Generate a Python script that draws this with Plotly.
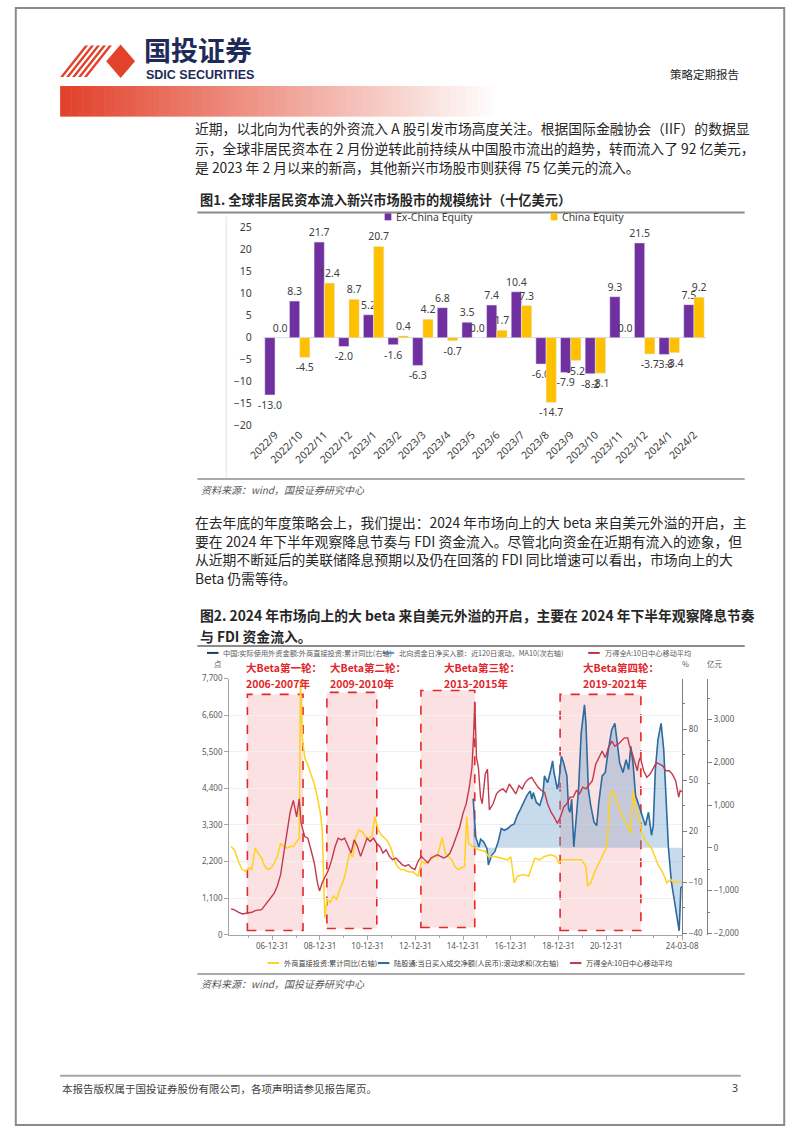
import plotly.graph_objects as go
import pandas as pd

W, H = 802, 1133
def X(px): return px / W
def Y(py): return 1 - py / H

CJK = "Noto Sans CJK SC"
LAT = "Noto Sans"

# ---------------- Figure 1 data ----------------
months = ["2022/9", "2022/10", "2022/11", "2022/12", "2023/1", "2023/2", "2023/3", "2023/4", "2023/5",
          "2023/6", "2023/7", "2023/8", "2023/9", "2023/10", "2023/11", "2023/12", "2024/1", "2024/2"]
ex_china = [-13.0, 8.3, 21.7, -2.0, 5.2, -1.6, -6.3, 6.8, 3.5, 7.4, 10.4, -6.0, -7.9, -8.2, 9.3, 21.5, -3.8, 7.5]
china = [0.0, -4.5, 12.4, 8.7, 20.7, 0.4, 4.2, -0.7, 0.0, 1.7, 7.3, -14.7, -5.2, -8.1, 0.0, -3.7, -3.4, 9.2]

# ---------------- Figure 2 data (time as decimal year) ----------------
wind_t = [2005.27, 2005.39, 2005.59, 2005.74, 2006.14, 2006.28, 2006.55, 2006.80, 2007.08, 2007.21, 2007.35,
          2007.48, 2007.62, 2007.75, 2007.88, 2008.02, 2008.13, 2008.21, 2008.36, 2008.49, 2008.62, 2008.76,
          2008.89, 2008.98, 2009.09, 2009.22, 2009.36, 2009.49, 2009.63, 2009.76, 2009.90, 2010.03, 2010.17,
          2010.30, 2010.43, 2010.57, 2010.70, 2010.83, 2010.97, 2011.10, 2011.24, 2011.37, 2011.51, 2011.64,
          2011.77, 2011.91, 2012.04, 2012.18, 2012.31, 2012.44, 2012.58, 2012.71, 2012.84, 2012.98, 2013.11,
          2013.25, 2013.38, 2013.52, 2013.65, 2013.79, 2013.92, 2014.05, 2014.19, 2014.32, 2014.45, 2014.59,
          2014.72, 2014.86, 2014.99, 2015.13, 2015.26, 2015.37, 2015.44, 2015.49, 2015.56, 2015.64, 2015.73,
          2015.80, 2015.93, 2016.02, 2016.10, 2016.26, 2016.40, 2016.53, 2016.67, 2016.80, 2016.94, 2017.07,
          2017.21, 2017.34, 2017.47, 2017.61, 2017.74, 2017.87, 2018.01, 2018.14, 2018.28, 2018.41, 2018.54,
          2018.68, 2018.81, 2018.95, 2019.08, 2019.22, 2019.35, 2019.48, 2019.62, 2019.75, 2019.88, 2020.02,
          2020.15, 2020.29, 2020.42, 2020.56, 2020.69, 2020.83, 2020.96, 2021.09, 2021.23, 2021.36, 2021.49,
          2021.63, 2021.76, 2021.90, 2021.96, 2022.10, 2022.23, 2022.30, 2022.37, 2022.43, 2022.57, 2022.70,
          2022.84, 2022.97, 2023.10, 2023.24, 2023.37, 2023.50, 2023.64, 2023.77, 2023.91, 2024.04, 2024.10,
          2024.18]
wind_v = [772, 752, 673, 623, 673, 722, 752, 970, 1247, 1465, 1811,
          2454, 3048, 3692, 4038, 3543, 4087, 3345, 2949, 2900, 2553, 2157,
          1564, 1316, 1564, 1762, 1960, 2257, 2652, 2900, 2850, 2900, 2652,
          2454, 2850, 2652, 2355, 2652, 2900, 2800, 2900, 2751, 2652, 2454,
          2553, 2355, 2257, 2306, 2207, 2108, 2059, 2108, 2009, 1960, 2207,
          2355, 2257, 2158, 2306, 2355, 2405, 2355, 2306, 2355, 2454, 2702,
          2949, 3246, 3642, 3939, 4434, 5028, 6017, 7007, 5325, 5028, 4137,
          3939, 4830, 4977, 3750, 3937, 4234, 4335, 4383, 4285, 4531, 4383,
          4234, 4483, 4383, 4582, 4680, 4730, 4582, 4433, 4335, 4285, 3937,
          3691, 3542, 3344, 3542, 3839, 3937, 4136, 4136, 4335, 4234, 4433,
          4383, 4531, 4631, 5125, 5324, 5523, 5324, 5621, 5820, 5671, 5720,
          5820, 5918, 5918, 5720, 5423, 5125, 4929, 5226, 5324, 4929, 4730,
          4828, 5027, 5175, 5125, 5076, 4929, 4929, 4828, 4631, 4136, 4335,
          4300]

fdi_t = [2005.27, 2005.40, 2005.60, 2005.74, 2005.87, 2006.01, 2006.14, 2006.28, 2006.41, 2006.55, 2006.68,
         2006.81, 2006.95, 2007.08, 2007.21, 2007.35, 2007.48, 2007.62, 2007.75, 2007.88, 2008.02, 2008.13,
         2008.18, 2008.26, 2008.36, 2008.49, 2008.62, 2008.76, 2008.89, 2009.02, 2009.09, 2009.15, 2009.20,
         2009.29, 2009.43, 2009.56, 2009.70, 2009.83, 2009.96, 2010.10, 2010.23, 2010.37, 2010.50, 2010.63,
         2010.77, 2010.90, 2011.03, 2011.17, 2011.30, 2011.44, 2011.57, 2011.71, 2011.84, 2011.98, 2012.11,
         2012.24, 2012.38, 2012.51, 2012.64, 2012.78, 2012.91, 2013.11, 2013.25, 2013.38, 2013.52, 2013.65,
         2013.79, 2013.92, 2014.12, 2014.25, 2014.39, 2014.52, 2014.65, 2014.79, 2014.92, 2015.06, 2015.15,
         2015.23, 2015.39, 2015.66, 2015.93, 2016.06, 2016.33, 2016.60, 2016.87, 2017.00, 2017.14, 2017.27,
         2017.54, 2017.74, 2017.87, 2018.01, 2018.21, 2018.41, 2018.68, 2018.88, 2019.02, 2019.15, 2019.55,
         2019.95, 2020.15, 2020.22, 2020.35, 2020.56, 2020.83, 2021.03, 2021.16, 2021.30, 2021.43, 2021.63,
         2021.83, 2022.03, 2022.12, 2022.23, 2022.37, 2022.50, 2022.70, 2022.90, 2023.04, 2023.17, 2023.30,
         2023.44, 2023.54, 2023.70, 2023.84, 2023.98, 2024.14]
fdi_v = [11.0, 9.1, 1.3, -2.5, -3.5, -1.6, -2.5, 10.0, 7.0, 4.2, -0.6,
         -2.5, -1.6, 1.3, 5.2, 12.9, 11.0, 10.0, 11.0, 11.0, 13.9, 15.8,
         109.0, 75.0, 63.0, 59.0, 53.5, 47.7, 40.0, 30.0, 20.7, -4.4, -31.0,
         -20.0, -22.0, -18.0, -20.0, -14.0, -10.0, -2.5, 7.2, 5.0, 16.8, 20.7,
         19.7, 16.8, 15.9, 16.8, 28.4, 20.7, 17.8, 15.9, 13.9, 10.0, 3.5,
         -0.6, -2.5, -2.5, -3.5, -4.0, -4.0, -6.4, 2.3, 1.3, 2.3, 3.2,
         5.2, 5.2, 16.2, 7.2, 5.2, 3.2, -0.6, -2.5, -1.6, -0.6, 28.4,
         12.9, 11.0, 9.1, 8.1, 5.2, 5.2, 4.2, 3.2, 5.0, -10.3, -6.4,
         -5.4, -6.4, -0.6, 4.2, 3.2, 5.2, 6.1, 5.2, 1.3, 3.2, 3.2,
         3.2, -0.6, -12.2, -10.3, -2.5, 5.2, 11.0, 41.9, 43.8, 37.4, 30.3,
         24.5, 18.7, 43.8, 35.0, 28.4, 18.7, 12.9, 10.0, 5.2, 0.3, -2.5,
         -6.4, -10.3, -8.3, -10.3, -9.4, -10.0]

north_t = [2015.42, 2015.47, 2015.53, 2015.66, 2015.73, 2015.86, 2016.00, 2016.06, 2016.20, 2016.33, 2016.47,
           2016.60, 2016.73, 2016.87, 2017.00, 2017.14, 2017.27, 2017.41, 2017.54, 2017.67, 2017.81, 2017.88,
           2017.94, 2018.07, 2018.21, 2018.34, 2018.41, 2018.54, 2018.68, 2018.75, 2018.81, 2018.95, 2019.01,
           2019.12, 2019.21, 2019.35, 2019.42, 2019.48, 2019.55, 2019.64, 2019.75, 2019.84, 2019.95, 2020.09,
           2020.15, 2020.25, 2020.35, 2020.49, 2020.60, 2020.69, 2020.83, 2020.96, 2021.09, 2021.23, 2021.36,
           2021.43, 2021.56, 2021.70, 2021.83, 2021.94, 2022.03, 2022.12, 2022.23, 2022.37, 2022.50, 2022.64,
           2022.77, 2022.90, 2022.97, 2023.06, 2023.17, 2023.30, 2023.41, 2023.50, 2023.61, 2023.73, 2023.84,
           2023.97, 2024.06, 2024.13, 2024.18]
north_v = [1150, 600, 250, 20, 200, 140, -15, -400, -170, -90, 140,
           450, 410, 450, 520, 560, 760, 910, 1060, 1220, 1330, 1140,
           1290, 1060, 990, 1220, 1680, 1520, 1830, 2030, 1760, 1370, 1520,
           2140, 1990, 1680, 910, 830, 1140, 20, 750, 1370, 2680, 3340,
           2910, 1370, 990, 600, 520, 1060, 1680, 1760, 2300, 2760, 2910,
           2600, 1990, 1760, 2060, 1830, 2370, 1990, 1220, 990, 750, 520,
           830, 290, 520, 1830, 2530, 2910, 2300, 1370, -15, -790, -1170,
           -1550, -1940, -940, -900]

x2_tickdates = ["2006-12-31", "2008-12-31", "2010-12-31", "2012-12-31", "2014-12-31",
                "2016-12-31", "2018-12-31", "2020-12-31", "2024-03-08"]
x2_ticklabels = ["06-12-31", "08-12-31", "10-12-31", "12-12-31", "14-12-31",
                 "16-12-31", "18-12-31", "20-12-31", "24-03-08"]

beta_rounds = [("大Beta第一轮：", "2006-2007年", "2005-12-15", "2008-04-15"),
               ("大Beta第二轮：", "2009-2010年", "2009-04-15", "2011-05-20"),
               ("大Beta第三轮：", "2013-2015年", "2013-03-25", "2015-06-28"),
               ("大Beta第四轮：", "2019-2021年", "2019-01-25", "2022-06-15")]


def to_date(t):
    y = int(t)
    return pd.Timestamp(year=y, month=1, day=1) + pd.Timedelta(days=(t - y) * 365.25)


fig = go.Figure()

# ---- Figure 1 bars ----
lab_font = dict(family=LAT, size=10.5, color="#404040")
fig.add_trace(go.Bar(x=months, y=ex_china, marker_color="#7030A0", texttemplate="%{y:.1f}",
                     textposition="outside", textfont=lab_font, cliponaxis=False, constraintext="none",
                     xaxis="x", yaxis="y", name="Ex-China Equity"))
fig.add_trace(go.Bar(x=months, y=china, marker_color="#FFC000", texttemplate="%{y:.1f}",
                     textposition="outside", textfont=lab_font, cliponaxis=False, constraintext="none",
                     xaxis="x", yaxis="y", name="China Equity"))

# ---- Figure 2 lines ----
fig.add_trace(go.Scatter(x=[to_date(t) for t in north_t], y=north_v, mode="lines",
                         line=dict(color="#2C6AA0", width=1.6), fill="tozeroy",
                         fillcolor="rgba(110,160,205,0.38)", xaxis="x2", yaxis="y2"))
fig.add_trace(go.Scatter(x=[to_date(t) for t in fdi_t], y=fdi_v, mode="lines",
                         line=dict(color="#FFD21F", width=1.5), xaxis="x2", yaxis="y3"))
fig.add_trace(go.Scatter(x=[to_date(t) for t in wind_t], y=wind_v, mode="lines",
                         line=dict(color="#C3384D", width=1.4), xaxis="x2", yaxis="y4"))

shapes = []
ann = []


def txt(s, x, y, size=13.0, color="#262626", anchor="left", family=CJK, bold=False, italic=False):
    if bold:
        s = "<b>" + s + "</b>"
    if italic:
        s = "<i>" + s + "</i>"
    ann.append(dict(text=s, x=X(x), y=Y(y), xref="paper", yref="paper", xanchor=anchor, yanchor="middle",
                    showarrow=False, font=dict(family=family, size=size, color=color)))


def hline(x0, x1, y, color="#8C8C8C", width=1.5):
    shapes.append(dict(type="line", xref="paper", yref="paper", x0=X(x0), x1=X(x1), y0=Y(y), y1=Y(y),
                       line=dict(color=color, width=width)))


def rect(x0, y0, x1, y1, color):
    shapes.append(dict(type="rect", xref="paper", yref="paper", x0=X(x0), x1=X(x1), y0=Y(y1), y1=Y(y0),
                       line=dict(width=0), fillcolor=color))


# page border
shapes.append(dict(type="rect", xref="paper", yref="paper", x0=0.001, x1=0.999, y0=0.001, y1=0.999,
                   line=dict(color="#8A8A8A", width=2)))

# ---- header ----
for i in range(5):
    bx = 47 + 6.2 * i
    p = "M {},{} L {},{} L {},{} L {},{} Z".format(X(bx), Y(71), X(bx + 3.2), Y(71), X(bx + 29.2), Y(39),
                                                 X(bx + 26), Y(39))
    shapes.append(dict(type="path", xref="paper", yref="paper", path=p, fillcolor="#E2412B",
                       line=dict(width=0)))
p = "M {},{} L {},{} L {},{} L {},{} Z".format(X(95), Y(55), X(110), Y(38), X(125), Y(55), X(110), Y(72))
shapes.append(dict(type="path", xref="paper", yref="paper", path=p, fillcolor="#E2412B", line=dict(width=0)))
txt("<b>国投证券</b>", 132, 43, size=27, color="#1E2A5A")
txt("<b>SDIC SECURITIES</b>", 134, 68.5, size=12.5, color="#1E2A5A", family="Liberation Sans")
txt("策略定期报告", 756, 68, size=11.5, color="#262626", anchor="right")

# gradient band
N = 80
x_start, x_end = 47, 505
step = (x_end - x_start) / N
for i in range(N):
    t = i / (N - 1)
    r = int(226 + (255 - 226) * t)
    g = int(66 + (255 - 66) * t)
    b = int(43 + (255 - 43) * t)
    rect(x_start + i * step, 80, x_start + (i + 1) * step + 0.6, 111, "rgb({},{},{})".format(r, g, b))

# ---- paragraph 1 ----
para1 = ["近期，以北向为代表的外资流入 A 股引发市场高度关注。根据国际金融协会（IIF）的数据显",
         "示，全球非居民资本在 2 月份逆转此前持续从中国股市流出的趋势，转而流入了 92 亿美元，",
         "是 2023 年 2 月以来的新高，其他新兴市场股市则获得 75 亿美元的流入。"]
for i, line in enumerate(para1):
    txt(line, 185, 123 + i * 19.5, size=13.8)

# ---- figure 1 title / legend / source ----
txt("<b>图1. 全球非居民资本流入新兴市场股市的规模统计（十亿美元）</b>", 191, 195, size=13.2)
hline(190, 760, 208, color="#8C8C8C", width=2)
rect(385, 209, 392, 216, "#7030A0")
txt("Ex-China Equity", 395, 213, size=10.5, family=LAT, color="#404040")
rect(558, 209, 565, 216, "#FFC000")
txt("China Equity", 568, 213, size=10.5, family=LAT, color="#404040")
shapes.append(dict(type="line", xref="paper", yref="paper", x0=X(220), x1=X(220), y0=Y(212), y1=Y(477),
                   line=dict(color="#E3E3E3", width=1)))
hline(190, 760, 478, color="#8C8C8C", width=1.5)
txt("资料来源：wind，国投证券研究中心", 192, 489, size=10, color="#595959", italic=True)

# ---- paragraph 2 ----
para2 = ["在去年底的年度策略会上，我们提出：2024 年市场向上的大 beta 来自美元外溢的开启，主",
         "要在 2024 年下半年观察降息节奏与 FDI 资金流入。尽管北向资金在近期有流入的迹象，但",
         "从近期不断延后的美联储降息预期以及仍在回落的 FDI 同比增速可以看出，市场向上的大",
         "Beta 仍需等待。"]
for i, line in enumerate(para2):
    txt(line, 185, 521 + i * 19.2, size=13.8)

# ---- figure 2 title ----
txt("<b>图2. 2024 年市场向上的大 beta 来自美元外溢的开启，主要在 2024 年下半年观察降息节奏</b>", 191, 616, size=13.8)
txt("<b>与 FDI 资金流入。</b>", 191, 637, size=13.8)
hline(190, 760, 647, color="#8C8C8C", width=2)

# top legend of figure 2
leg_top = [(200, "#1F3A68", "中国:实际使用外资金额:外商直接投资:累计同比(右轴)"),
           (383, "#5B9BD5", "北向资金日净买入额：近120日滚动，MA10(次右轴)"),
           (597, "#C0304A", "万得全A:10日中心移动平均")]
for x0, c, s in leg_top:
    hline(x0, x0 + 12, 654, color=c, width=2)
    txt(s, x0 + 15, 654, size=7.2, color="#595959")

txt("点", 205, 665, size=7.5, color="#595959")
txt("%", 693, 665, size=7.5, color="#595959")
txt("亿元", 719, 665, size=7.5, color="#595959")

# beta boxes
box_px = [(696, 935, 238), (694, 933, 326), (692, 932, 445), (696, 935, 590)]
for (t1, t2, d0, d1), (ytop, ybot, lx) in zip(beta_rounds, box_px):
    shapes.append(dict(type="rect", xref="x2", yref="paper", x0=d0, x1=d1, y0=Y(ybot), y1=Y(ytop),
                       fillcolor="rgba(236,120,120,0.22)", line=dict(color="#E8262A", width=1.6, dash="dash"),
                       layer="below"))
    txt("<b>" + t1 + "</b>", lx, 669, size=10.5, color="#E0262A")
    txt("<b>" + t2 + "</b>", lx, 685, size=10.5, color="#E0262A")

# bottom legend of figure 2
leg_bot = [(263, "#FFD21F", "外商直接投资:累计同比(右轴)"),
           (378, "#2C6AA0", "陆股通:当日买入成交净额(人民币):滚动求和(次右轴)"),
           (578, "#C3384D", "万得全A:10日中心移动平均")]
for x0, c, s in leg_bot:
    hline(x0, x0 + 12, 968, color=c, width=2)
    txt(s, x0 + 15, 968, size=7.2, color="#404040")

hline(190, 760, 979, color="#8C8C8C", width=1.5)
txt("资料来源：wind，国投证券研究中心", 192, 989, size=10, color="#595959", italic=True)

# footer
hline(47, 756, 1082, color="#A6A6A6", width=2)
txt("本报告版权属于国投证券股份有限公司，各项声明请参见报告尾页。", 47, 1095, size=10.5, color="#404040")
txt("3", 755, 1095, size=10.5, color="#404040", anchor="right", family=LAT)

small = dict(family=LAT, size=8, color="#595959")
fig.update_layout(
    width=W, height=H, margin=dict(l=0, r=0, t=0, b=0),
    paper_bgcolor="white", plot_bgcolor="rgba(0,0,0,0)", showlegend=False,
    barmode="group", bargap=0.17, bargroupgap=0.0,
    font=dict(family=CJK, color="#333333"),
    shapes=shapes, annotations=ann,
    xaxis=dict(domain=[X(258), X(720)], anchor="y", type="category", tickangle=-45,
               tickfont=dict(family=LAT, size=10.5, color="#404040"), showline=False, ticks="",
               showgrid=False, zeroline=False),
    yaxis=dict(domain=[Y(424), Y(223.3)], anchor="x", range=[-20, 25], dtick=5,
               tickfont=dict(family=LAT, size=10.5, color="#404040"), showgrid=False,
               zeroline=True, zerolinecolor="#D9D9D9", zerolinewidth=1, showline=False, ticklabelstandoff=10),
    xaxis2=dict(domain=[X(223), X(695)], anchor="y2", type="date",
                range=["2005-03-10", "2024-03-10"], tickmode="array",
                tickvals=x2_tickdates, ticktext=x2_ticklabels, ticks="outside", ticklen=4,
                tickcolor="#A6A6A6", showline=True, linecolor="#A6A6A6", linewidth=1,
                tickfont=small, showgrid=False, zeroline=False,
                minor=dict(ticks="outside", ticklen=2, tickcolor="#A6A6A6", dtick="M12", tick0="2005-12-31")),
    yaxis2=dict(domain=[Y(939.3), Y(680)], anchor="free", position=X(721), side="right",
                range=[-2030, 3954], tickvals=[-2000, -1000, 0, 1000, 2000, 3000, 4000],
                tickformat=",d", ticks="outside", ticklen=4, tickcolor="#7F7F7F",
                showline=True, linecolor="#7F7F7F", showgrid=False, zeroline=False, tickfont=small,
                minor=dict(ticks="outside", ticklen=2, tickcolor="#7F7F7F", dtick=500, tick0=0)),
    yaxis3=dict(overlaying="y2", anchor="x2", side="right", range=[-40.75, 109.6],
                tickvals=[-40, -10, 20, 50, 80], ticks="outside", ticklen=4, tickcolor="#7F7F7F",
                showline=True, linecolor="#7F7F7F", showgrid=False, zeroline=False, tickfont=small,
                minor=dict(ticks="outside", ticklen=2, tickcolor="#7F7F7F", dtick=15, tick0=-40)),
    yaxis4=dict(overlaying="y2", anchor="x2", side="left", range=[0, 7700],
                tickvals=[0, 1100, 2200, 3300, 4400, 5500, 6600, 7700], tickformat=",d",
                ticks="outside", ticklen=4, tickcolor="#A6A6A6", showline=True, linecolor="#A6A6A6",
                showgrid=True, gridcolor="#F0F0F0", zeroline=False, tickfont=small),
)

fig.write_html("out.html")
